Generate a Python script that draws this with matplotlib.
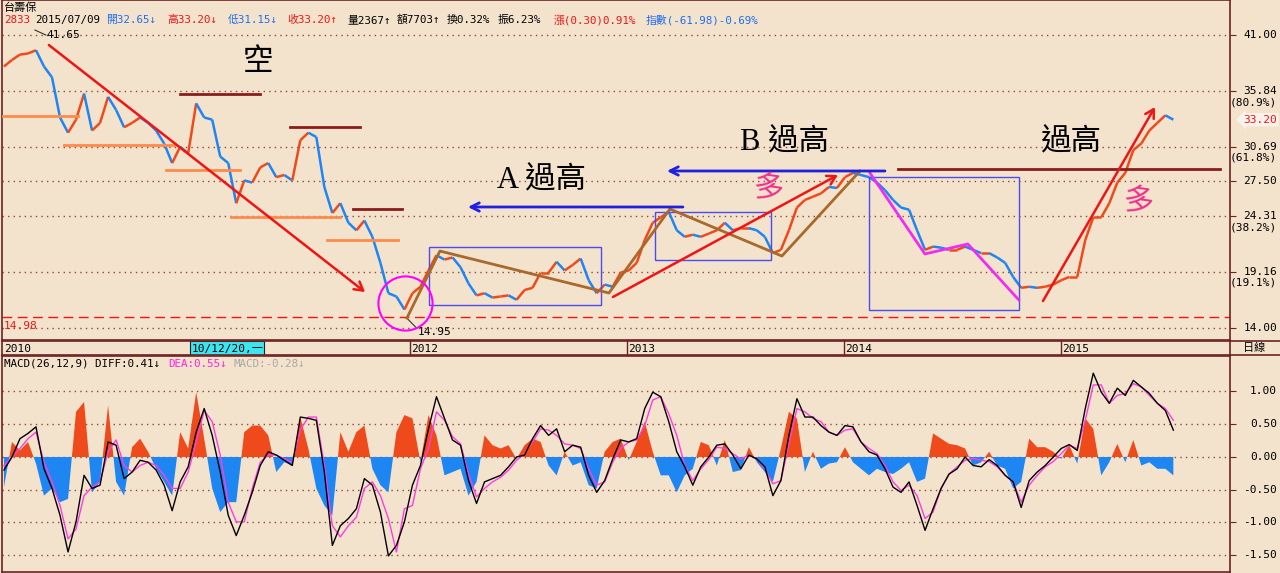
import numpy as np
import matplotlib
matplotlib.use('Agg')
import matplotlib.pyplot as plt
import matplotlib.transforms as mtransforms
from matplotlib.collections import LineCollection
from matplotlib.patches import Rectangle
from matplotlib.lines import Line2D

# 台壽保 2833 收盤價 (約雙週取樣, 2010/02 ~ 2015/07/09)
close = [38.1, 38.7, 39.2, 39.3, 39.6, 38.1, 37.1, 33.4, 32.0, 33.2,
         35.6, 32.2, 32.9, 35.3, 34.1, 32.5, 32.9, 33.4, 32.9, 32.2,
         31.0, 29.2, 30.7, 30.1, 34.7, 33.4, 33.2, 29.8, 29.2, 25.5,
         27.6, 27.4, 28.8, 29.2, 27.9, 28.1, 27.6, 31.3, 32.0, 31.6,
         27.0, 24.6, 25.5, 23.7, 23.0, 23.9, 22.4, 20.0, 17.2, 16.9,
         15.7, 17.2, 17.8, 19.3, 20.7, 20.3, 20.5, 19.6, 18.1, 17.0,
         17.2, 16.8, 16.9, 17.0, 16.6, 17.5, 17.7, 19.1, 19.1, 20.1,
         19.3, 19.8, 20.4, 18.4, 17.2, 18.0, 17.8, 19.1, 19.3, 20.0,
         22.1, 23.7, 24.2, 24.7, 23.0, 22.4, 22.6, 22.4, 22.7, 23.0,
         23.7, 23.0, 23.2, 23.2, 23.0, 22.4, 20.9, 21.2, 23.0, 25.1,
         25.8, 26.1, 26.4, 27.0, 26.9, 27.9, 28.3, 28.1, 27.9, 27.4,
         26.7, 25.8, 25.1, 24.9, 23.0, 21.2, 21.5, 21.4, 21.2, 21.2,
         21.5, 21.2, 20.9, 20.9, 20.5, 20.0, 18.7, 17.7, 17.8, 17.7,
         17.8, 18.0, 18.4, 18.7, 18.7, 22.1, 24.2, 24.2, 25.5, 27.4,
         28.3, 30.4, 31.0, 32.2, 32.9, 33.6, 33.2]

# MACD(26,12,9)
diff = [-0.20, 0.00, 0.28, 0.36, 0.46, -0.18, -0.48, -0.89, -1.45, -0.99,
        -0.28, -0.48, -0.43, 0.23, 0.18, -0.33, -0.23, -0.05, -0.08, -0.20,
        -0.43, -0.82, -0.38, -0.15, 0.38, 0.74, 0.33, -0.23, -0.89, -1.20,
        -0.89, -0.54, -0.13, 0.08, 0.03, -0.05, -0.13, 0.61, 0.59, 0.56,
        -0.23, -1.35, -1.05, -0.94, -0.79, -0.33, -0.43, -0.84, -1.51, -1.35,
        -0.99, -0.43, -0.13, 0.43, 0.92, 0.59, 0.26, 0.18, -0.36, -0.71,
        -0.38, -0.33, -0.28, -0.15, 0.00, 0.03, 0.28, 0.48, 0.33, 0.43,
        0.08, 0.18, 0.15, -0.28, -0.54, -0.36, -0.03, 0.26, 0.23, 0.28,
        0.74, 0.99, 0.92, 0.54, 0.08, -0.15, -0.43, -0.15, 0.00, 0.18,
        0.20, 0.03, -0.18, 0.03, -0.03, -0.15, -0.59, -0.36, 0.33, 0.89,
        0.61, 0.61, 0.48, 0.38, 0.33, 0.48, 0.46, 0.23, 0.08, 0.03,
        -0.18, -0.46, -0.54, -0.38, -0.74, -1.12, -0.79, -0.48, -0.26, -0.18,
        0.00, -0.13, -0.15, -0.04, -0.13, -0.28, -0.38, -0.77, -0.36, -0.23,
        -0.13, 0.00, 0.13, 0.19, 0.10, 0.74, 1.28, 0.99, 0.82, 1.05,
        0.94, 1.17, 1.07, 0.97, 0.82, 0.71, 0.41]
dea = [-0.13, 0.00, 0.13, 0.28, 0.38, -0.08, -0.38, -0.74, -1.25, -1.10,
       -0.59, -0.46, -0.38, 0.08, 0.26, -0.13, -0.23, -0.13, -0.08, -0.13,
       -0.28, -0.48, -0.48, -0.23, 0.23, 0.71, 0.54, 0.03, -0.69, -0.99,
       -0.99, -0.48, -0.08, 0.03, 0.03, -0.03, -0.08, 0.41, 0.61, 0.61,
       -0.13, -1.05, -1.22, -1.05, -0.92, -0.48, -0.38, -0.59, -0.94, -1.45,
       -0.79, -0.74, -0.18, 0.13, 0.69, 0.56, 0.31, 0.20, -0.26, -0.61,
       -0.48, -0.38, -0.31, -0.20, -0.05, 0.05, 0.23, 0.43, 0.41, 0.33,
       0.20, 0.18, 0.13, -0.18, -0.43, -0.38, -0.08, 0.13, 0.23, 0.26,
       0.48, 0.87, 0.92, 0.66, 0.33, -0.13, -0.36, -0.18, -0.04, 0.15,
       0.13, 0.05, -0.03, 0.03, -0.03, -0.18, -0.41, -0.36, 0.20, 0.74,
       0.69, 0.59, 0.54, 0.38, 0.33, 0.41, 0.43, 0.23, 0.13, 0.05,
       -0.13, -0.38, -0.51, -0.43, -0.59, -0.94, -0.84, -0.48, -0.26, -0.15,
       -0.05, -0.02, -0.05, -0.07, -0.15, -0.28, -0.38, -0.69, -0.43, -0.28,
       -0.15, -0.07, 0.05, 0.18, 0.13, 0.56, 1.10, 1.10, 0.82, 0.94,
       0.97, 1.12, 1.07, 0.94, 0.82, 0.74, 0.56]
macd_hist = [-0.46, 0.23, 0.10, 0.23, -0.10, -0.59, -0.48, -0.69, -0.64, 0.69,
             0.84, -0.54, -0.38, 0.79, -0.38, -0.59, 0.15, 0.28, 0.08, -0.18,
             -0.38, -0.59, 0.38, 0.13, 0.99, 0.28, -0.48, -0.84, -0.69, -0.69,
             0.38, 0.48, 0.48, 0.33, -0.23, -0.08, -0.13, 0.61, 0.13, -0.48,
             -0.74, -0.89, 0.38, 0.08, 0.38, 0.48, -0.18, -0.43, -0.54, 0.38,
             0.64, 0.59, -0.08, 0.64, 0.33, -0.28, -0.23, -0.18, -0.59, -0.38,
             0.33, 0.18, 0.13, 0.18, -0.03, 0.18, 0.28, 0.23, -0.13, -0.28,
             0.08, -0.13, -0.08, -0.43, -0.48, 0.08, 0.23, 0.28, -0.05, 0.23,
             0.54, 0.08, -0.28, -0.28, -0.54, -0.28, -0.18, 0.23, 0.18, -0.13,
             0.26, -0.23, -0.20, 0.15, -0.08, -0.23, -0.38, 0.13, 0.69, 0.59,
             -0.23, 0.08, -0.18, -0.10, -0.08, 0.15, -0.08, -0.18, -0.28, -0.18,
             -0.23, -0.26, -0.18, -0.08, -0.38, -0.33, 0.36, 0.28, 0.20, 0.18,
             0.13, -0.13, -0.08, 0.08, -0.13, -0.18, -0.48, -0.38, 0.28, 0.15,
             0.15, 0.08, -0.03, 0.18, -0.10, 0.59, 0.43, -0.28, -0.08, 0.20,
             -0.08, 0.26, -0.13, -0.08, -0.18, -0.18, -0.28]

price_ticks = [41.00, 35.84, 30.69, 27.50, 24.31, 19.16, 14.00]
fib_labels = {35.84: '(80.9%)', 30.69: '(61.8%)', 24.31: '(38.2%)', 19.16: '(19.1%)'}
macd_ticks = [1.00, 0.50, 0.00, -0.50, -1.00, -1.50]
years = [2012, 2013, 2014, 2015]

# 時間軸 (以年為單位)
t = np.linspace(2010.129, 2015.518, len(close))
XL = (2010.120, 2015.779)

BG = '#F4E3CC'
BROWN = '#6B2424'
GRID = '#8A4A3A'
UP = '#EE4A1C'
DN = '#1E86F2'
RED = '#F01414'
MONO = ['DejaVu Sans Mono', 'Noto Sans CJK TC']
CJK = ['Noto Sans CJK TC', 'DejaVu Sans']

W, H = 1280, 573
fig = plt.figure(figsize=(W / 100, H / 100), dpi=100, facecolor=BG)


def fx(px):
    return px / W


def fy(py):
    return 1 - py / H


ax = fig.add_axes([fx(2), fy(340), 1228 / W, 340 / H], facecolor=BG)
ax_d = fig.add_axes([fx(2), fy(355), 1228 / W, 14 / H], facecolor=BG)
ax_m = fig.add_axes([fx(2), fy(572), 1228 / W, 216 / H], facecolor=BG)

for a in (ax, ax_d, ax_m):
    a.set_xlim(*XL)
    a.set_xticks([])
    for s in a.spines.values():
        s.set_color(BROWN)
        s.set_linewidth(1.2)

# ---------------- 主圖 ----------------
ax.set_ylim(12.89, 44.23)
for p in price_ticks:
    ax.axhline(p, color=GRID, lw=1, ls=(0, (1, 3)), zorder=0)
ax.axhline(14.98, color=RED, lw=1, ls=(0, (7, 4)), zorder=1)
ax.text(2010.13, 14.18, '14.98', color=RED, fontsize=8, family=MONO, va='center')

pts = np.column_stack([t, close])
segs = np.stack([pts[:-1], pts[1:]], axis=1)
cols = [UP if close[i + 1] >= close[i] else DN for i in range(len(close) - 1)]
ax.add_collection(LineCollection(segs, colors=cols, linewidths=1.8, zorder=3))

ax.yaxis.tick_right()
ax.set_yticks(price_ticks)
ax.set_yticklabels([])
ax.tick_params(axis='y', direction='out', length=4, color=BROWN)
blend = mtransforms.blended_transform_factory(fig.transFigure, ax.transData)
for p in price_ticks:
    ax.text(fx(1277), p, f'{p:.2f}', transform=blend, ha='right', va='center',
            fontsize=8, family=MONO, color='black')
    if p in fib_labels:
        ax.annotate(fib_labels[p], xy=(fx(1277), p), xycoords=blend, xytext=(0, -11),
                    textcoords='offset pixels', ha='right', va='center',
                    fontsize=8, family=MONO, color='black', annotation_clip=False)
ax.text(fx(1277), close[-1], f'{close[-1]:.2f}', transform=blend, ha='right', va='center',
        fontsize=8, family=MONO, color=RED,
        bbox=dict(boxstyle='larrow,pad=0.15', fc='#F7F3EC', ec='none'))

# 手繪標記
ORANGE = '#FF8A4C'
MAROON = '#8B1C1C'
BROWNL = '#A8692C'
BLUEL = '#4B4BF0'
MAG = '#F02CF0'

for x0, x1, y in [(2010.12, 2010.470, 33.53), (2010.406, 2010.917, 30.86),
                  (2010.876, 2011.217, 28.56), (2011.175, 2011.677, 24.23),
                  (2011.618, 2011.945, 22.11)]:
    ax.plot([x0, x1], [y, y], color=ORANGE, lw=2, zorder=4)
for x0, x1, y in [(2010.940, 2011.309, 35.60), (2011.447, 2011.770, 32.50),
                  (2011.737, 2011.963, 24.96), (2014.249, 2015.733, 28.62)]:
    ax.plot([x0, x1], [y, y], color=MAROON, lw=2, zorder=4)

for x0, x1, y0, y1 in [(2012.088, 2012.880, 16.12, 21.46),
                       (2013.129, 2013.664, 20.26, 24.69),
                       (2014.115, 2014.806, 15.65, 27.91)]:
    ax.add_patch(Rectangle((x0, y0), x1 - x0, y1 - y0, fill=False, ec=BLUEL, lw=1, zorder=4))

ax.plot([2011.986, 2012.138, 2012.917, 2013.198, 2013.714, 2014.074],
        [14.92, 21.09, 17.22, 24.96, 20.63, 28.47], color=BROWNL, lw=2, zorder=5)
ax.plot([2014.120, 2014.373, 2014.571, 2014.806], [28.28, 20.82, 21.74, 16.58],
        color=MAG, lw=2, zorder=5)

arrow_red = dict(arrowstyle='->,head_length=0.6,head_width=0.35', color=RED, lw=1.8,
                 shrinkA=0, shrinkB=0)
ax.annotate('', xy=(2011.793, 17.31), xytext=(2010.336, 40.08), arrowprops=arrow_red, zorder=6)
ax.annotate('', xy=(2013.972, 28.10), xytext=(2012.935, 16.85), arrowprops=arrow_red, zorder=6)
ax.annotate('', xy=(2015.433, 34.36), xytext=(2014.917, 16.48), arrowprops=arrow_red, zorder=6)
arrow_blue = dict(arrowstyle='->,head_length=0.6,head_width=0.3', color='#2020E0', lw=2,
                  shrinkA=0, shrinkB=0)
ax.annotate('', xy=(2012.267, 25.15), xytext=(2013.258, 25.15), arrowprops=arrow_blue, zorder=6)
ax.annotate('', xy=(2013.184, 28.47), xytext=(2014.189, 28.47), arrowprops=arrow_blue, zorder=6)

ax.plot([2011.977], [16.30], 'o', ms=39, mfc='none', mec='#FF00FF', mew=1.5, zorder=6)

ax.plot([2010.272, 2010.322], [41.46, 41.0], color='#333333', lw=0.8)
ax.text(2010.327, 41.0, '41.65', fontsize=8, family=MONO, va='center', ha='left')
ax.plot([2011.986, 2012.03], [14.9, 14.0], color='#333333', lw=0.8)
ax.text(2012.037, 13.63, '14.95', fontsize=8, family=MONO, va='center', ha='left')

big = dict(fontsize=22, family=['Liberation Serif', 'Noto Sans CJK TC'], color='black',
           ha='center', va='center', zorder=7)
ax.text(2011.300, 38.51, '空', **big)
ax.text(2012.608, 27.54, 'A 過高', **big)
ax.text(2013.724, 31.05, 'B 過高', **big)
ax.text(2015.046, 31.05, '過高', **big)
ax.text(2013.650, 26.81, '多', fontsize=22, family=CJK, color='#F0308C', ha='center',
        va='center', rotation=-8, zorder=7)
ax.text(2015.355, 25.61, '多', fontsize=22, family=CJK, color='#F0308C', ha='center',
        va='center', rotation=-8, zorder=7)

# ---------------- 日期列 ----------------
ax_d.set_ylim(0, 1)
ax_d.set_yticks([])
ax_d.text(2010.128, 0.45, '2010', fontsize=8, family=MONO, va='center', ha='left')
for yr in years:
    ax_d.axvline(yr, color=BROWN, lw=1)
    ax_d.text(yr + 0.006, 0.45, str(yr), fontsize=8, family=MONO, va='center', ha='left')
ax_d.add_patch(Rectangle((2010.986, 0.0), 0.341, 1.0, fc='#3CE6F0', ec='#202020', lw=0.8))
ax_d.text(2010.995, 0.45, '10/12/20,一', fontsize=8, family=MONO, va='center', ha='left')
fig.add_artist(Line2D([fx(1230), 1], [fy(341), fy(341)], color=BROWN, lw=1.2))
fig.add_artist(Line2D([fx(1230), 1], [fy(355), fy(355)], color=BROWN, lw=1.2))
fig.text(fx(1254), fy(348), '日線', fontsize=8, family=CJK, ha='center', va='center')

# ---------------- MACD ----------------
ax_m.set_ylim(-1.756, 1.542)
for v in macd_ticks:
    ax_m.axhline(v, color=GRID, lw=1, ls=(0, (1, 3)), zorder=0)
h = np.array(macd_hist)
ax_m.fill_between(t, 0, h, where=h >= 0, interpolate=True, color=UP, lw=0, zorder=2)
ax_m.fill_between(t, 0, h, where=h <= 0, interpolate=True, color=DN, lw=0, zorder=2)
ax_m.plot(t, dea, color='#FF3CE6', lw=1, zorder=3)
ax_m.plot(t, diff, color='black', lw=1, zorder=4)
ax_m.yaxis.tick_right()
ax_m.set_yticks(macd_ticks)
ax_m.set_yticklabels([])
ax_m.tick_params(axis='y', direction='out', length=4, color=BROWN)
blend_m = mtransforms.blended_transform_factory(fig.transFigure, ax_m.transData)
for v in macd_ticks:
    ax_m.text(fx(1277), v, f'{v:.2f}', transform=blend_m, ha='right', va='center',
              fontsize=8, family=MONO, color='black')

# ---------------- 標題列 ----------------
fig.text(fx(4), fy(8), '台壽保', fontsize=8, family=CJK, va='center', ha='left')
blue_h = '#1E6EF0'
header = [(4, '2833', RED), (35, '2015/07/09', 'black'), (106, '開32.65↓', blue_h),
          (167, '高33.20↓', RED), (228, '低31.15↓', blue_h), (287, '收33.20↑', RED),
          (347, '量2367↑', 'black'), (397, '額7703↑', 'black'), (447, '換0.32%', 'black'),
          (498, '振6.23%', 'black'), (554, '漲(0.30)0.91%', RED),
          (646, '指數(-61.98)-0.69%', blue_h)]
for x, s, c in header:
    fig.text(fx(x), fy(20), s, fontsize=7.8, family=MONO, color=c, va='center', ha='left')

fig.text(fx(4), fy(364), 'MACD(26,12,9) DIFF:0.41↓', fontsize=7.8, family=MONO,
         color='black', va='center', ha='left')
fig.text(fx(168), fy(364), 'DEA:0.55↓', fontsize=7.8, family=MONO, color='#FF22DD',
         va='center', ha='left')
fig.text(fx(234), fy(364), 'MACD:-0.28↓', fontsize=7.8, family=MONO, color='#A8A8A8',
         va='center', ha='left')

fig.savefig('out.png', dpi=100, facecolor=BG)
